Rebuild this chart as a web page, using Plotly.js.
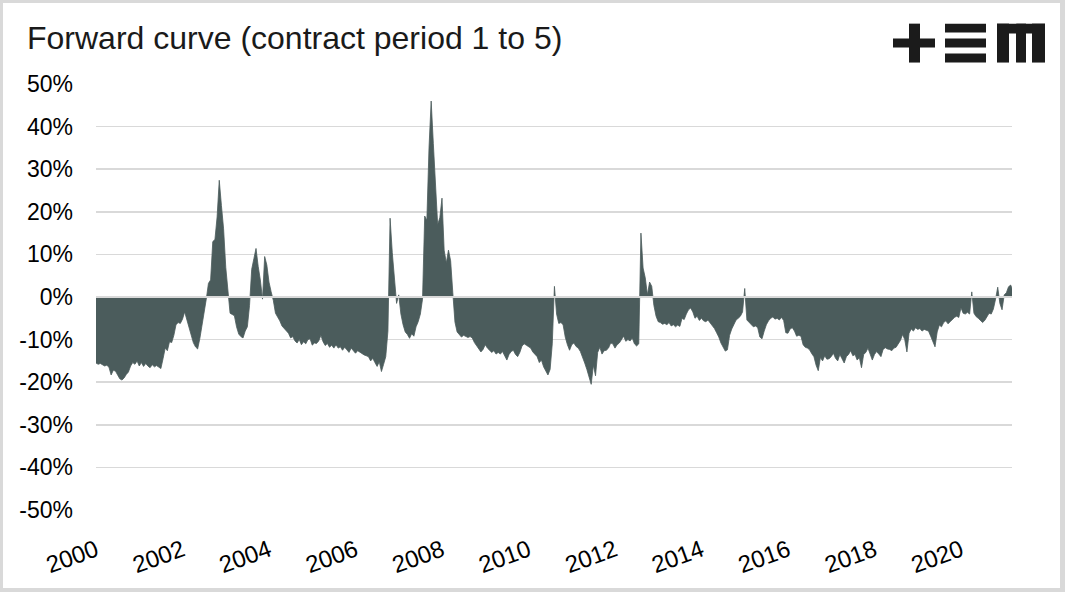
<!DOCTYPE html>
<html>
<head>
<meta charset="utf-8">
<script src="https://cdn.plot.ly/plotly-3.0.1.min.js"></script>
<style>
  html, body { margin: 0; padding: 0; background: #fff; }
  #wrap { width: 1065px; height: 592px; box-sizing: border-box; border-style: solid; border-color: #d9d9d9; border-width: 3px 5px 4px 3px; }
  #chart { width: 1057px; height: 585px; }
</style>
</head>
<body>
<div id="wrap"><div id="chart"></div></div>
<script>
const years = [2000, 2001, 2002, 2003, 2004, 2005, 2006, 2007, 2008, 2009, 2010,
               2011, 2012, 2013, 2014, 2015, 2016, 2017, 2018, 2019, 2020, 2021];
const stepsPerYear = 20;

const v2000 = [-15.5, -15.8, -15.6, -15.9, -16.2, -16.0, -16.5, -18.3, -17.2, -17.4, -18.4, -19.2, -19.5, -19.0, -18.2, -17.6, -16.2, -15.4, -15.8, -15.0];
const v2001 = [-16.2, -15.4, -16.3, -15.6, -16.2, -16.6, -15.9, -16.4, -16.1, -16.5, -16.8, -14.5, -12.0, -12.6, -10.5, -10.7, -9.0, -6.5, -6.0, -6.2];
const v2002 = [-5.2, -3.5, -5.3, -7.5, -9.2, -10.7, -11.7, -12.2, -9.8, -6.8, -4.5, -0.5, 3.2, 4.0, 13.0, 13.5, 18.8, 27.4, 21.5, 16.0];
const v2003 = [7.0, 1.0, -3.8, -4.1, -4.4, -7.0, -8.7, -9.3, -9.6, -8.0, -7.0, -2.0, 6.5, 9.0, 11.4, 7.2, 4.0, -0.5, 9.5, 7.5];
const v2004 = [3.5, 1.2, -0.8, -3.8, -4.6, -5.6, -6.8, -7.3, -8.0, -8.5, -9.6, -9.3, -10.3, -10.8, -10.0, -11.2, -10.5, -11.0, -10.0, -9.8];
const v2005 = [-11.3, -10.8, -10.9, -10.3, -9.0, -10.5, -11.4, -10.9, -11.8, -11.3, -12.0, -11.2, -12.0, -11.7, -12.5, -11.8, -12.4, -13.0, -12.0, -12.5];
const v2006 = [-13.2, -12.6, -13.0, -13.2, -13.6, -13.8, -14.0, -15.0, -14.4, -15.4, -16.3, -15.2, -17.5, -15.8, -14.0, -8.0, 18.5, 10.5, 3.5, -1.5];
const v2007 = [0.5, -4.0, -6.5, -8.2, -8.8, -9.7, -8.6, -9.2, -7.0, -5.8, -4.0, -0.5, 19.0, 18.0, 35.0, 46.0, 36.0, 25.0, 17.0, 18.6];
const v2008 = [23.2, 11.0, 8.0, 11.0, 8.5, 1.0, -5.9, -8.2, -8.8, -9.4, -9.0, -9.3, -9.5, -9.3, -9.6, -10.7, -11.5, -12.0, -12.9, -12.3];
const v2009 = [-11.2, -12.0, -12.6, -13.0, -12.6, -13.4, -13.0, -13.4, -12.8, -13.8, -14.8, -13.5, -12.8, -12.5, -13.5, -14.0, -13.0, -11.5, -11.0, -11.3];
const v2010 = [-11.6, -12.0, -12.9, -13.5, -14.0, -15.4, -14.8, -16.4, -17.2, -18.3, -17.0, -11.0, 2.5, -4.0, -6.2, -6.0, -6.5, -9.4, -11.2, -12.5];
const v2011 = [-11.2, -10.8, -11.6, -12.0, -12.8, -14.0, -15.5, -17.0, -19.0, -20.5, -16.0, -18.5, -13.0, -11.8, -13.4, -12.6, -12.5, -12.0, -10.8, -11.0];
const v2012 = [-12.0, -11.2, -10.8, -10.0, -9.2, -10.4, -10.0, -10.3, -9.6, -11.0, -11.5, -11.0, 15.0, 6.8, 4.5, 0.5, 3.5, 2.5, -2.0, -4.5];
const v2013 = [-5.8, -6.0, -6.4, -6.2, -6.5, -6.0, -6.8, -6.5, -7.0, -6.6, -6.9, -5.0, -5.3, -4.0, -3.0, -2.6, -3.5, -5.0, -4.5, -5.5];
const v2014 = [-5.0, -5.6, -5.8, -5.4, -6.0, -6.8, -7.4, -8.4, -9.4, -10.8, -11.7, -12.7, -12.4, -9.0, -7.5, -6.5, -5.4, -5.0, -4.5, -3.5];
const v2015 = [2.0, -5.4, -6.0, -6.5, -7.0, -6.8, -7.2, -9.4, -9.8, -8.0, -6.5, -5.6, -5.0, -4.7, -5.2, -5.0, -5.4, -4.8, -5.5, -8.4];
const v2016 = [-8.5, -7.5, -7.2, -8.0, -9.2, -9.0, -9.2, -11.2, -11.8, -12.0, -12.4, -13.3, -14.0, -16.0, -17.3, -14.2, -15.0, -13.8, -14.6, -14.5];
const v2017 = [-14.0, -13.2, -14.4, -15.0, -13.5, -14.5, -15.5, -14.0, -13.5, -12.6, -13.8, -13.5, -14.8, -14.2, -16.6, -13.5, -13.0, -12.0, -13.5, -14.8];
const v2018 = [-13.5, -12.8, -13.4, -14.0, -12.3, -11.9, -12.2, -12.3, -12.6, -12.0, -11.8, -11.0, -10.2, -8.8, -10.0, -12.9, -8.5, -7.5, -8.0, -7.2];
const v2019 = [-7.6, -7.4, -8.0, -7.6, -7.9, -8.0, -9.2, -10.5, -11.7, -8.2, -6.6, -7.0, -6.0, -5.6, -6.3, -5.8, -5.2, -4.8, -4.5, -4.8];
const v2020 = [-2.5, -3.8, -4.0, -3.6, -4.0, 1.2, -3.8, -4.6, -5.0, -5.6, -6.0, -5.5, -4.5, -3.8, -4.0, -2.8, -0.5, 2.3, -1.5, -3.0];
const v2021 = [0.5, 1.0, 2.4, 2.8, 1.5];

const valuesByYear = [v2000, v2001, v2002, v2003, v2004, v2005, v2006, v2007, v2008, v2009, v2010,
                      v2011, v2012, v2013, v2014, v2015, v2016, v2017, v2018, v2019, v2020, v2021];

const xTickVals = [2000, 2002, 2004, 2006, 2008, 2010, 2012, 2014, 2016, 2018, 2020];
const xTickText = ['2000', '2002', '2004', '2006', '2008', '2010', '2012', '2014', '2016', '2018', '2020'];
const yTickVals = [-50, -40, -30, -20, -10, 0, 10, 20, 30, 40, 50];
const yTickText = ['-50%', '-40%', '-30%', '-20%', '-10%', '0%', '10%', '20%', '30%', '40%', '50%'];

const xs = [], ys = [];
years.forEach((yr, k) => {
  valuesByYear[k].forEach((v, i) => { xs.push(yr + i / stepsPerYear); ys.push(v); });
});

const FILL = '#4b5c5c';
const trace = {
  type: 'scatter', mode: 'lines', x: xs, y: ys,
  fill: 'tozeroy', fillcolor: FILL,
  line: { color: FILL, width: 0.8 },
  hoverinfo: 'skip'
};

// plot area in page pixels: left 96, right 1012, top 83.5, bottom 510.5
const PL = 96, PR = 1012, PT = 83.5, PB = 510.5;
const px = x => (x - PL) / (PR - PL);
const py = y => (PB - y) / (PB - PT);
const LOGO = '#1b1b1b';
function rect(x0, y0, x1, y1) {
  return { type: 'rect', xref: 'paper', yref: 'paper', x0: px(x0), x1: px(x1), y0: py(y1), y1: py(y0),
           fillcolor: LOGO, line: { width: 0 }, layer: 'above' };
}
const logo = [
  rect(893, 38, 935, 47), rect(909, 23, 920, 62),
  rect(945, 23, 986, 32), rect(945, 38, 986, 47), rect(945, 53, 986, 62),
  rect(997, 23, 1045, 33), rect(997, 23, 1009, 62), rect(1016, 23, 1026, 62), rect(1032, 23, 1045, 62)
];

const FONT = 'Liberation Sans, Arial, sans-serif';

const layout = {
  width: 1057, height: 585,
  margin: { l: 93, r: 48, t: 80.5, b: 77.5, pad: 0 },
  paper_bgcolor: '#fff', plot_bgcolor: '#fff',
  showlegend: false,
  title: {
    text: 'Forward curve (contract period 1 to 5)',
    xref: 'container', yref: 'container',
    x: 24 / 1057, xanchor: 'left',
    y: 1 - 24 / 585, yanchor: 'top',
    font: { family: FONT, size: 32, color: '#1a1a1a' }
  },
  xaxis: {
    type: 'linear', range: [2000, 2021.18],
    tickmode: 'array', tickvals: xTickVals, ticktext: xTickText,
    tickangle: -20, showgrid: false, zeroline: false, showline: false, ticks: '',
    tickfont: { family: FONT, size: 24, color: '#000' }, ticklabelstandoff: 21, fixedrange: true
  },
  yaxis: {
    range: [-50, 50],
    tickmode: 'array', tickvals: yTickVals, ticktext: yTickText,
    showgrid: true, gridcolor: '#d9d9d9', gridwidth: 1.5,
    zeroline: false, showline: false, ticks: '',
    tickfont: { family: FONT, size: 23, color: '#000' }, ticklabelstandoff: 22, fixedrange: true
  },
  shapes: [
    { type: 'line', xref: 'paper', x0: 0, x1: 1, yref: 'y', y0: 0, y1: 0,
      line: { color: '#d9d9d9', width: 2 }, layer: 'above' }
  ].concat(logo)
};

Plotly.newPlot('chart', [trace], layout, { displayModeBar: false, staticPlot: true });
</script>
</body>
</html>
